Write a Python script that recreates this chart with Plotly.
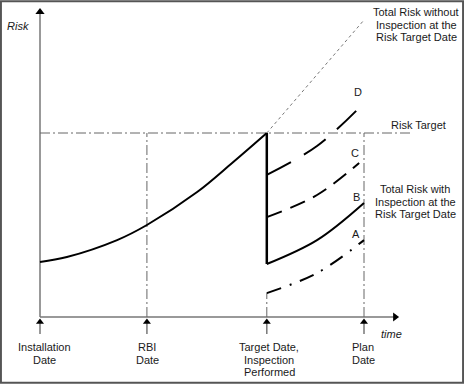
import plotly.graph_objects as go

# ---- data (time units, risk units) ----
time_main = [0, 0.83, 2.38, 3.3, 4.85, 5.93, 7.0]
risk_main = [2.99, 3.26, 4.18, 5.0, 6.79, 8.37, 10.0]

time_no_insp = [7.0, 10.0]
risk_no_insp = [10.0, 16.14]

time_drop = [7.0, 7.0]
risk_drop = [10.0, 2.88]

time_after = [7.0, 8.55, 10.0]
risk_A = [1.30, 2.39, 4.18]
risk_B = [2.88, 4.18, 6.2]
time_C = [7.0, 8.55, 9.85]
risk_C = [5.43, 6.63, 8.37]
risk_D = [7.72, 9.29, 11.63]

risk_target = 10.0
target_line_end = 11.42

milestone_times = [0.0, 3.3, 7.0, 10.0]
milestone_labels = ["Installation<br>Date", "RBI<br>Date",
                    "Target Date,<br>Inspection<br>Performed", "Plan<br>Date"]
milestone_line_top = [None, 10.0, 1.30, 10.0]

axis_x_end = 10.96
axis_y_end = 16.58

# ---- geometry ----
W, H = 464, 384
X0PX, XS = 40, 32.4
Y0PX, YS = 317, 18.4
xr = [(0 - X0PX) / XS, (W - X0PX) / XS]
yr = [(Y0PX - H) / YS, Y0PX / YS]


def P(px, py):
    return px / W, 1 - py / H


FONT = "Liberation Sans, Arial, sans-serif"
TXT = "#1a1a1a"
GREY = "#777777"
DD = "10px,3px,2px,3px"

fig = go.Figure()

# axes
fig.add_trace(go.Scatter(x=[0, 0], y=[0, axis_y_end], mode="lines",
                         line=dict(color=GREY, width=1.5), hoverinfo="skip"))
fig.add_trace(go.Scatter(x=[0, axis_x_end], y=[0, 0], mode="lines",
                         line=dict(color=GREY, width=1.5), hoverinfo="skip"))
fig.add_trace(go.Scatter(x=[0], y=[axis_y_end], mode="markers",
                         marker=dict(symbol="triangle-up", size=8, color="black"), hoverinfo="skip"))
fig.add_trace(go.Scatter(x=[axis_x_end], y=[0], mode="markers",
                         marker=dict(symbol="triangle-right", size=8, color="black"), hoverinfo="skip"))

# risk target line
fig.add_trace(go.Scatter(x=[0, target_line_end], y=[risk_target, risk_target], mode="lines",
                         line=dict(color="#666666", width=1, dash=DD), hoverinfo="skip"))

# milestone vertical lines and small arrows
tail = (Y0PX - 334) / YS
tip = (Y0PX - 322) / YS
for t, top in zip(milestone_times, milestone_line_top):
    if top is not None:
        fig.add_trace(go.Scatter(x=[t, t], y=[0, top], mode="lines",
                                 line=dict(color="#666666", width=1, dash=DD), hoverinfo="skip"))
    fig.add_trace(go.Scatter(x=[t, t], y=[tail, tip], mode="lines",
                             line=dict(color=GREY, width=1.5), hoverinfo="skip"))
    fig.add_trace(go.Scatter(x=[t], y=[tip], mode="markers",
                             marker=dict(symbol="triangle-up", size=7, color="black"), hoverinfo="skip"))

# curves
fig.add_trace(go.Scatter(x=time_no_insp, y=risk_no_insp, mode="lines",
                         line=dict(color="#777777", width=1, dash="3px,3px"), hoverinfo="skip"))
fig.add_trace(go.Scatter(x=time_main, y=risk_main, mode="lines",
                         line=dict(color="black", width=2, shape="spline"), hoverinfo="skip"))
fig.add_trace(go.Scatter(x=time_drop, y=risk_drop, mode="lines",
                         line=dict(color="black", width=2.5), hoverinfo="skip"))
fig.add_trace(go.Scatter(x=time_after, y=risk_B, mode="lines",
                         line=dict(color="black", width=2, shape="spline"), hoverinfo="skip"))
fig.add_trace(go.Scatter(x=time_after, y=risk_A, mode="lines",
                         line=dict(color="black", width=2, shape="spline", dash="15px,9px,2px,9px"),
                         hoverinfo="skip"))
fig.add_trace(go.Scatter(x=time_C, y=risk_C, mode="lines",
                         line=dict(color="black", width=2, shape="spline", dash="16px,9px"),
                         hoverinfo="skip"))
fig.add_trace(go.Scatter(x=time_after, y=risk_D, mode="lines",
                         line=dict(color="black", width=2, shape="spline", dash="27px,15px"),
                         hoverinfo="skip"))

ann = []


def text(s, px, py, xanchor="center", italic=False, size=11):
    x, y = P(px, py)
    ann.append(dict(text=("<i>%s</i>" % s) if italic else s, x=x, y=y, xref="paper", yref="paper",
                    xanchor=xanchor, yanchor="middle", showarrow=False,
                    font=dict(family=FONT, size=size, color=TXT)))


def block(s, px, py0, lh=12.5):
    for i, line in enumerate(s.split("<br>")):
        text(line, px, py0 + i * lh)


block("Total Risk without<br>Inspection at the<br>Risk Target Date", 416, 12)
text("Risk Target", 418, 125)
block("Total Risk with<br>Inspection at the<br>Risk Target Date", 415, 189)
text("D", 358, 92)
text("C", 355, 153)
text("B", 356, 197)
text("A", 356, 234)
text("Risk", 5, 26, xanchor="left", italic=True)
text("time", 391, 334, italic=True)

label_px = [44, 147, 269, 363]
for lab, px in zip(milestone_labels, label_px):
    block(lab, px, 347)

fig.update_layout(
    width=W, height=H, margin=dict(l=0, r=0, t=0, b=0),
    paper_bgcolor="white", plot_bgcolor="white", showlegend=False,
    xaxis=dict(range=xr, visible=False, fixedrange=True),
    yaxis=dict(range=yr, visible=False, fixedrange=True),
    annotations=ann,
    shapes=[dict(type="rect", xref="paper", yref="paper", x0=0.002, y0=0.003, x1=0.998, y1=0.997,
                 line=dict(color="#555555", width=2))],
)

fig.write_html("out.html", config={"displayModeBar": False},
               post_script="document.body.style.margin='0px';document.body.style.overflow='hidden';")
